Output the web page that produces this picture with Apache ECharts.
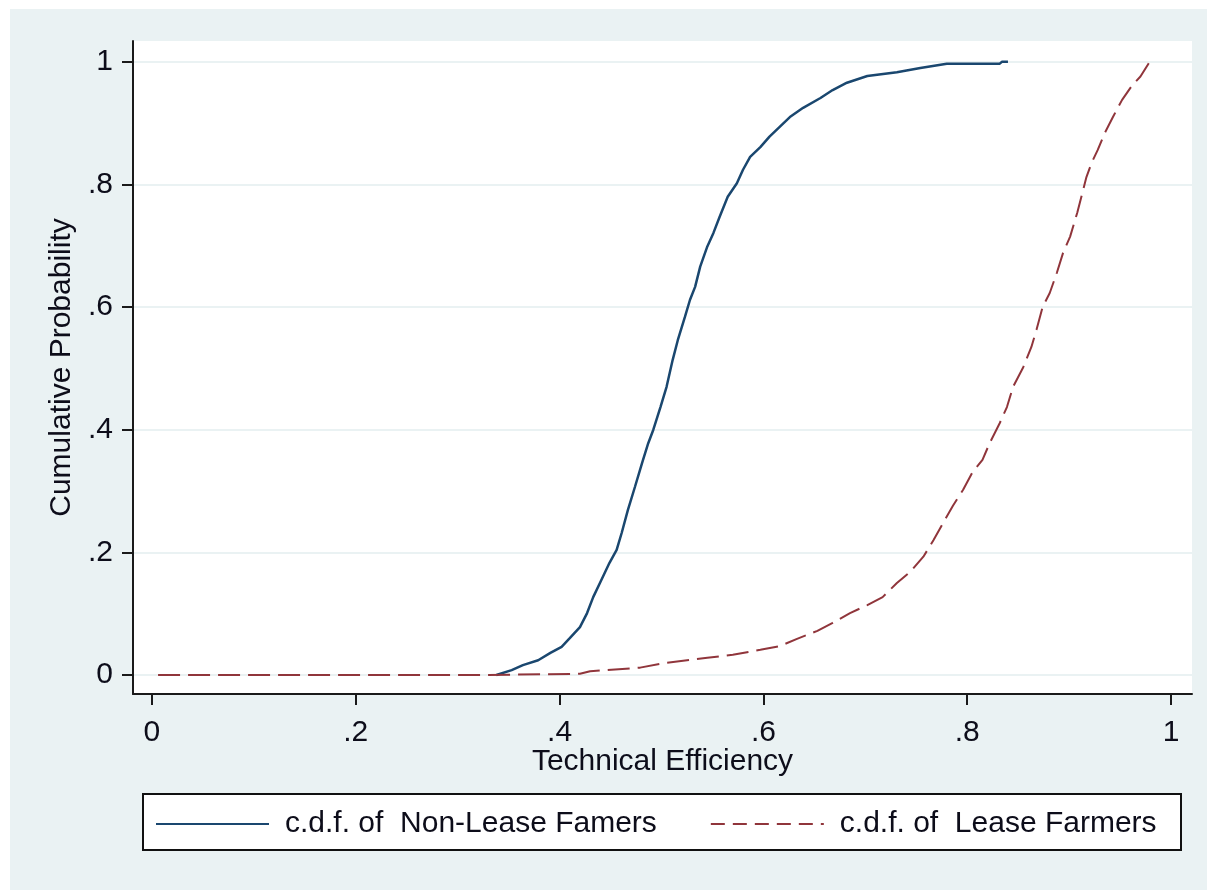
<!DOCTYPE html>
<html>
<head>
<meta charset="utf-8">
<script src="https://cdn.jsdelivr.net/npm/echarts@6/dist/echarts.min.js"></script>
<style>
html,body{margin:0;padding:0;background:#ffffff;}
#bg{position:absolute;left:10px;top:9px;width:1197px;height:881px;background:#eaf2f3;}
#chart{position:absolute;left:0;top:0;width:1207px;height:890px;}
</style>
</head>
<body>
<div id="bg"></div>
<div id="chart"></div>
<script>
// ---- data ----
const nonLeaseX = [0.338,0.353,0.364,0.379,0.391,0.402,0.410,0.420,0.427,0.433,0.441,0.449,0.456,0.461,0.467,0.474,0.481,0.487,0.492,0.499,0.505,0.511,0.516,0.523,0.528,0.533,0.538,0.545,0.551,0.557,0.565,0.574,0.580,0.587,0.597,0.606,0.616,0.626,0.639,0.656,0.668,0.682,0.702,0.731,0.754,0.780,0.832,0.834,0.840];
const nonLeaseY = [0,0.008,0.016,0.024,0.036,0.046,0.060,0.078,0.101,0.127,0.155,0.183,0.204,0.232,0.269,0.307,0.346,0.378,0.400,0.437,0.470,0.514,0.546,0.584,0.612,0.633,0.666,0.699,0.721,0.747,0.780,0.802,0.824,0.845,0.861,0.878,0.894,0.910,0.925,0.941,0.954,0.966,0.977,0.983,0.990,0.997,0.997,1.0,1.0];
const leaseX = [0.006,0.330,0.420,0.430,0.479,0.505,0.545,0.570,0.597,0.616,0.633,0.653,0.668,0.685,0.702,0.717,0.731,0.744,0.757,0.767,0.777,0.786,0.796,0.805,0.815,0.822,0.832,0.839,0.845,0.855,0.863,0.868,0.874,0.881,0.888,0.894,0.901,0.908,0.913,0.917,0.922,0.928,0.935,0.943,0.952,0.962,0.970,0.979];
const leaseY = [0,0,0.002,0.006,0.012,0.020,0.028,0.033,0.041,0.047,0.059,0.072,0.085,0.101,0.114,0.127,0.150,0.168,0.193,0.220,0.250,0.276,0.302,0.330,0.351,0.378,0.411,0.437,0.470,0.502,0.535,0.563,0.600,0.623,0.656,0.688,0.715,0.754,0.786,0.812,0.835,0.856,0.884,0.910,0.938,0.962,0.976,1.0];
const tickValues = [0,0.2,0.4,0.6,0.8,1];
const tickLabels = ["0",".2",".4",".6",".8","1"];
const seriesNames = ["c.d.f. of  Non-Lease Famers","c.d.f. of  Lease Farmers"];
const xTitle = "Technical Efficiency";
const yTitle = "Cumulative Probability";

function pairs(xs, ys){ return xs.map((x,i)=>[x, ys[i]]); }
function fmt(v){ for(let i=0;i<tickValues.length;i++){ if(Math.abs(tickValues[i]-v)<1e-6) return tickLabels[i]; } return ''; }

const FONT = "'Liberation Sans', Arial, sans-serif";
const TXT = '#0d0d1a';

const chart = echarts.init(document.getElementById('chart'), null, {renderer:'canvas'});
chart.setOption({
  animation:false,
  backgroundColor:'transparent',
  textStyle:{fontFamily:FONT},
  grid:{left:133, right:15, top:41, bottom:196, show:true, backgroundColor:'#ffffff', borderWidth:0, containLabel:false},
  xAxis:{
    type:'value', min:-0.0186, max:1.0206,
    name:xTitle, nameLocation:'middle', nameGap:53, nameMoveOverlap:false,
    nameTextStyle:{fontSize:30, color:TXT, fontFamily:FONT},
    axisLine:{show:true, onZero:false, lineStyle:{color:'#1a1a1a', width:2}},
    axisTick:{show:true, length:11, customValues:tickValues, lineStyle:{color:'#1a1a1a', width:2}},
    axisLabel:{show:true, customValues:tickValues, formatter:fmt, fontSize:30, color:TXT, margin:24, fontFamily:FONT},
    splitLine:{show:false}
  },
  yAxis:{
    type:'value', min:-0.031, max:1.034,
    name:yTitle, nameLocation:'middle', nameGap:56, nameMoveOverlap:false,
    nameTextStyle:{fontSize:30, color:TXT, fontFamily:FONT},
    axisLine:{show:true, onZero:false, lineStyle:{color:'#1a1a1a', width:2}},
    axisTick:{show:true, length:11, customValues:tickValues, lineStyle:{color:'#1a1a1a', width:2}},
    axisLabel:{show:true, customValues:tickValues, formatter:fmt, fontSize:30, color:TXT, margin:20, fontFamily:FONT},
    splitLine:{show:true, lineStyle:{color:'#eaf2f3', width:2}}
  },
  graphic:[{type:'rect', shape:{x:143, y:794, width:1038, height:56}, style:{fill:'#ffffff', stroke:'#111111', lineWidth:2}, z:1}],
  legend:{
    show:true, left:155, top:809, padding:0, itemGap:53, itemWidth:113, itemHeight:14, z:5,
    itemStyle:{opacity:0},
    textStyle:{fontSize:30, color:TXT, fontFamily:FONT, padding:[0,0,0,11]},
    data:[{name:seriesNames[0]},{name:seriesNames[1], lineStyle:{type:[14,8]}}]
  },
  series:[
    {name:seriesNames[0], type:'line', data:pairs(nonLeaseX, nonLeaseY), symbol:'none', smooth:false,
     lineStyle:{color:'#1a476f', width:2.5}, itemStyle:{color:'#1a476f'}},
    {name:seriesNames[1], type:'line', data:pairs(leaseX, leaseY), symbol:'none', smooth:false,
     lineStyle:{color:'#90353b', width:2, type:[22,8]}, itemStyle:{color:'#90353b'}}
  ]
});
</script>
</body>
</html>
